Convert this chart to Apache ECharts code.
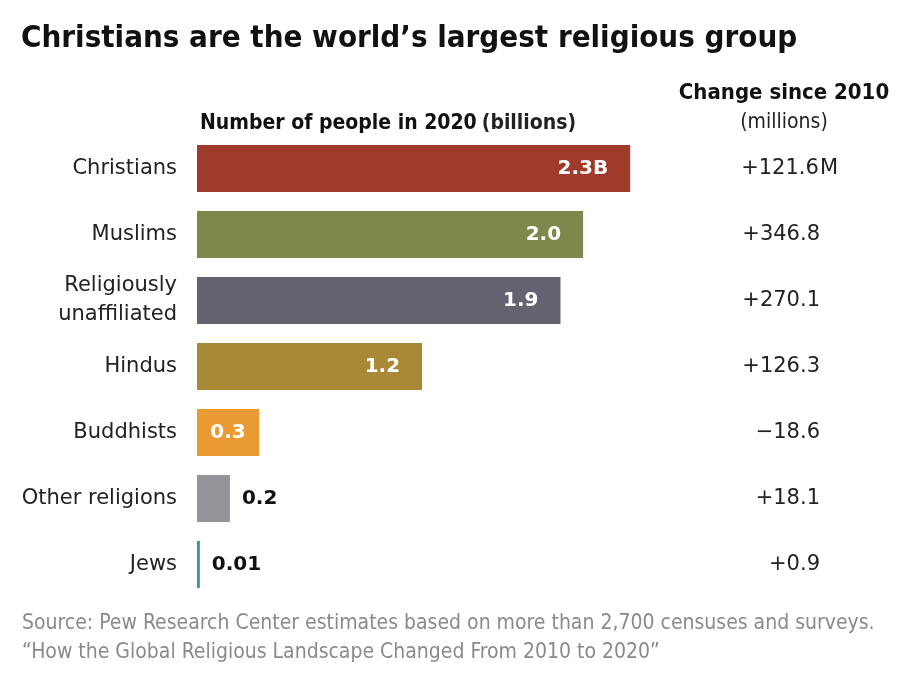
<!DOCTYPE html>
<html>
<head>
<meta charset="utf-8">
<script src="https://cdn.jsdelivr.net/npm/echarts@6/dist/echarts.min.js"></script>
<style>
html,body{margin:0;padding:0;background:#fff;}
#chart{width:918px;height:679px;}
</style>
</head>
<body>
<div id="chart"></div>
<script>
var categories = ['Christians', 'Muslims', 'Religiously\nunaffiliated', 'Hindus', 'Buddhists', 'Other religions', 'Jews'];
var population = [2.30, 2.05, 1.93, 1.195, 0.33, 0.175, 0.015];
var valueLabels = ['2.3B', '2.0', '1.9', '1.2', '0.3', '0.2', '0.01'];
var changes = ['+121.6', '+346.8', '+270.1', '+126.3', '\u221218.6', '+18.1', '+0.9'];
var changeSuffix = ['M', '', '', '', '', '', ''];
var colors = ['#A03A2B', '#7F884A', '#676270', '#AA8936', '#EA9B33', '#939598', '#3491B5'];

var labelFont = 'DejaVu Sans';
var sansFont = '"DejaVu Sans", sans-serif';
var narrowFont = '"DejaVu Sans Condensed", "Liberation Sans Narrow", sans-serif';

var barData = population.map(function (v, i) {
  var lbl;
  if (i < 4) {
    lbl = {show: true, position: 'insideRight', distance: 22, color: '#fff'};
  } else if (i === 4) {
    lbl = {show: true, position: 'inside', color: '#fff'};
  } else {
    lbl = {show: true, position: 'right', distance: 12, color: '#111'};
  }
  lbl.formatter = valueLabels[i];
  lbl.fontFamily = labelFont;
  lbl.fontWeight = 'bold';
  lbl.fontSize = 20;
  return {value: v, itemStyle: {color: colors[i]}, label: lbl};
});

var chart = echarts.init(document.getElementById('chart'), null, {renderer: 'canvas'});
chart.setOption({
  backgroundColor: '#fff',
  animation: false,
  title: [
    {
      text: 'Christians are the world\u2019s largest religious group',
      left: 21, top: 23, padding: 0,
      textStyle: {fontFamily: narrowFont, fontWeight: 'bold', fontSize: 31, color: '#111'}
    },
    {
      text: '{b|Number of people in 2020} {r|(billions)}',
      left: 200, top: 113, padding: 0,
      textStyle: {rich: {
        b: {fontFamily: narrowFont, fontWeight: 'bold', fontSize: 21, color: '#111'},
        r: {fontFamily: narrowFont, fontSize: 21, color: '#222'}
      }}
    },
    {
      text: 'Change since 2010',
      left: 784, top: 82, textAlign: 'center', padding: 0,
      textStyle: {fontFamily: narrowFont, fontWeight: 'bold', fontSize: 22, color: '#111'}
    },
    {
      text: '(millions)',
      left: 784, top: 112, textAlign: 'center', padding: 0,
      textStyle: {fontFamily: narrowFont, fontWeight: 'normal', fontSize: 21, color: '#222'}
    },
    {
      text: 'Source: Pew Research Center estimates based on more than 2,700 censuses and surveys.\n\u201cHow the Global Religious Landscape Changed From 2010 to 2020\u201d',
      left: 22, top: 609, padding: 0,
      textStyle: {fontFamily: narrowFont, fontWeight: 'normal', fontSize: 21, color: '#8a8a8a', lineHeight: 29}
    }
  ],
  grid: {left: 197, top: 135.5, width: 565, height: 462, containLabel: false},
  xAxis: {
    type: 'value', min: 0, max: 3, show: false
  },
  yAxis: [
    {
      type: 'category', data: categories, inverse: true,
      axisLine: {show: false}, axisTick: {show: false}, splitLine: {show: false},
      axisLabel: {
        margin: 20, color: '#222', fontFamily: sansFont, fontSize: 21, lineHeight: 29, align: 'right'
      }
    },
    {
      type: 'category', data: categories, inverse: true, position: 'right',
      axisLine: {show: false}, axisTick: {show: false}, splitLine: {show: false},
      axisLabel: {
        margin: -22, align: 'left',
        formatter: function (value, index) {
          return '{v|' + changes[index] + '}' + (changeSuffix[index] ? '{m|' + changeSuffix[index] + '}' : '');
        },
        rich: {
          v: {width: 80, align: 'right', color: '#222', fontFamily: sansFont, fontSize: 21},
          m: {color: '#222', fontFamily: sansFont, fontSize: 21}
        }
      }
    }
  ],
  series: [{
    type: 'bar', data: barData, barWidth: 47, yAxisIndex: 0,
    barMinHeight: 2
  }]
});
</script>
</body>
</html>
